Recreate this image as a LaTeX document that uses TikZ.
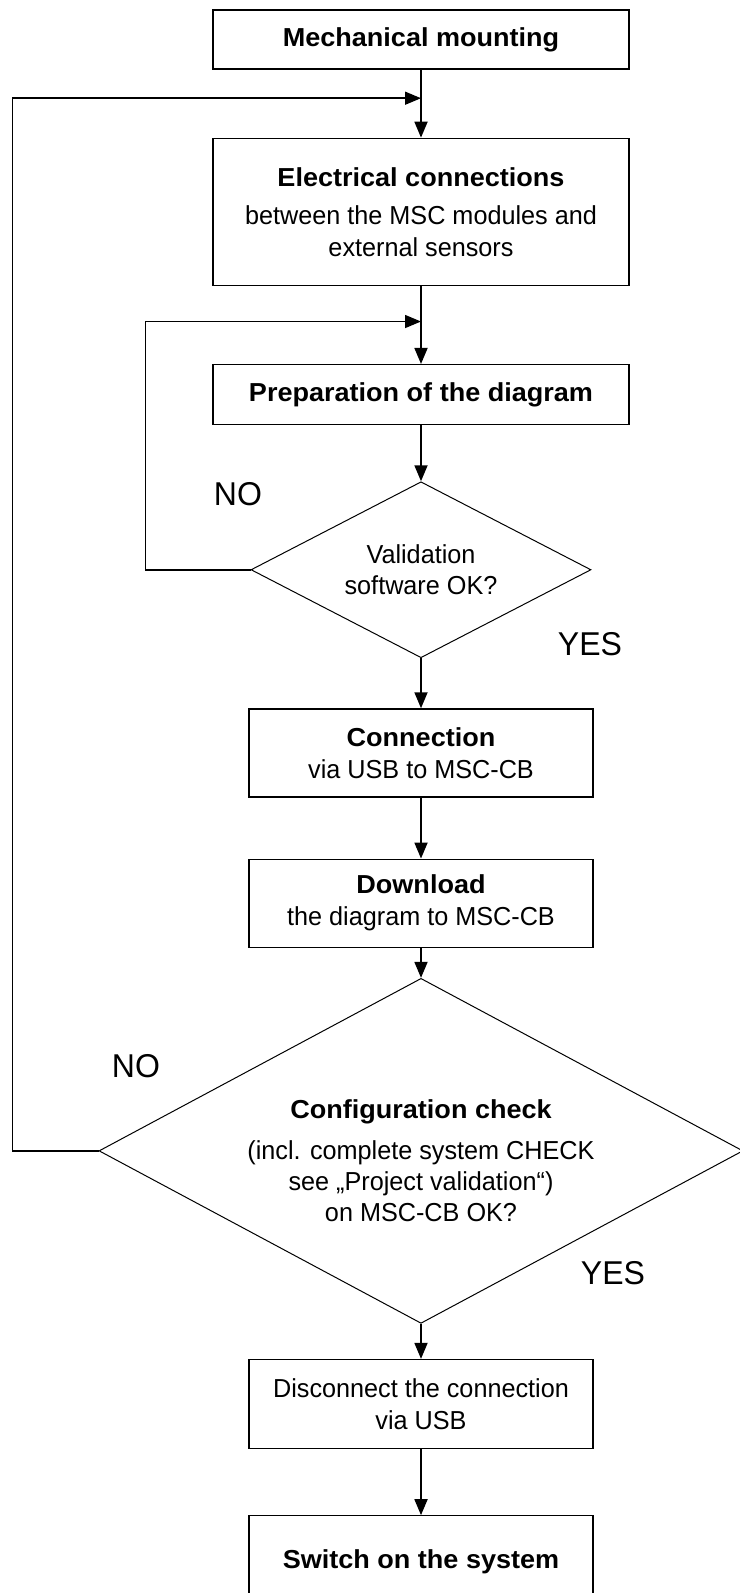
\documentclass[tikz,border=0pt]{standalone}
\usepackage{fontspec}
\setmainfont{Liberation Sans}[FakeStretch=0.97, BoldFeatures={FakeStretch=1.04}]
\usetikzlibrary{arrows.meta,shapes.geometric,positioning,calc}
\tikzset{
    block/.style={
        rectangle,
        draw=black,
        line width=1.3pt,
        minimum width=416pt,
        inner sep=0pt,
        align=center,
        font=\fontsize{26}{32}\selectfont,
    },
    smallblock/.style={
        block,
        minimum width=344pt,
    },
    decision/.style={
        diamond,
        draw=black,
        line width=1pt,
        inner sep=0pt,
        align=center,
        font=\fontsize{26}{31}\selectfont,
    },
    answer/.style={
        font=\fontsize{33}{36}\selectfont,
    },
}

\begin{document}
\begin{tikzpicture}[>={Triangle[length=16pt,width=13pt]}, flow/.style={->, line width=1.8pt}]
    \useasboundingbox (0,0) rectangle (739pt,-1593pt);
    \node [block, minimum height=59pt] (mount) at (421pt,-39.5pt) {\textbf{Mechanical mounting}};
    \node [block, minimum height=147pt, below=68pt of mount] (elec) {\textbf{Electrical connections}\\[6pt] between the MSC modules and\\ external sensors};
    \node [block, minimum height=60pt, below=78pt of elec] (prep) {\textbf{Preparation of the diagram}};
    \node [decision, aspect=1.94, minimum width=340pt, minimum height=176pt, below=56pt of prep] (valid) {Validation\\ software OK?};
    \node [smallblock, minimum height=88pt, below=50pt of valid] (conn) {\textbf{Connection}\\ via USB to MSC-CB};
    \node [smallblock, minimum height=88pt, below=61pt of conn] (down) {\textbf{Download}\\ the diagram to MSC-CB};
    \node [decision, aspect=1.87, minimum width=644pt, minimum height=345pt, below=30pt of down] (check) {\rule{0pt}{38pt}\textbf{Configuration check}\\[10pt] (incl. complete system CHECK\\ see „Project validation“)\\ on MSC-CB OK?};
    \node [smallblock, minimum height=89pt, below=35pt of check] (disc) {Disconnect the connection\\ via USB};
    \node [smallblock, minimum height=92pt, below=66pt of disc] (on) {\textbf{Switch on the system}};
    % answers
    \node [answer] (no1) at ($(valid)+(-183pt,76pt)$) {NO};
    \node [answer] (yes1) at ($(valid)+(169pt,-74pt)$) {YES};
    \node [answer] (no2) at ($(check)+(-285pt,85pt)$) {NO};
    \node [answer] (yes2) at ($(check)+(192pt,-122pt)$) {YES};
    % where the loops come back in
    \coordinate (join1) at ($(mount.south)!0.42!(elec.north)$);
    \coordinate (join2) at ($(elec.south)!0.456!(prep.north)$);
    \draw [flow] (mount) -- (elec);
    \draw [flow] (elec) -- (prep);
    \draw [flow] (prep) -- (valid);
    \draw [flow] (valid) -- (conn);
    \draw [flow] (conn) -- (down);
    \draw [flow] (down) -- (check);
    \draw [flow] (check) -- (disc);
    \draw [flow] (disc) -- (on);
    \draw [flow, line width=1.5pt] (valid.west) -- ++(-105pt,0) |- (join2);
    \draw [flow, line width=1.5pt] (check.west) -- ++(-86pt,0) |- (join1);
\end{tikzpicture}
\end{document}
